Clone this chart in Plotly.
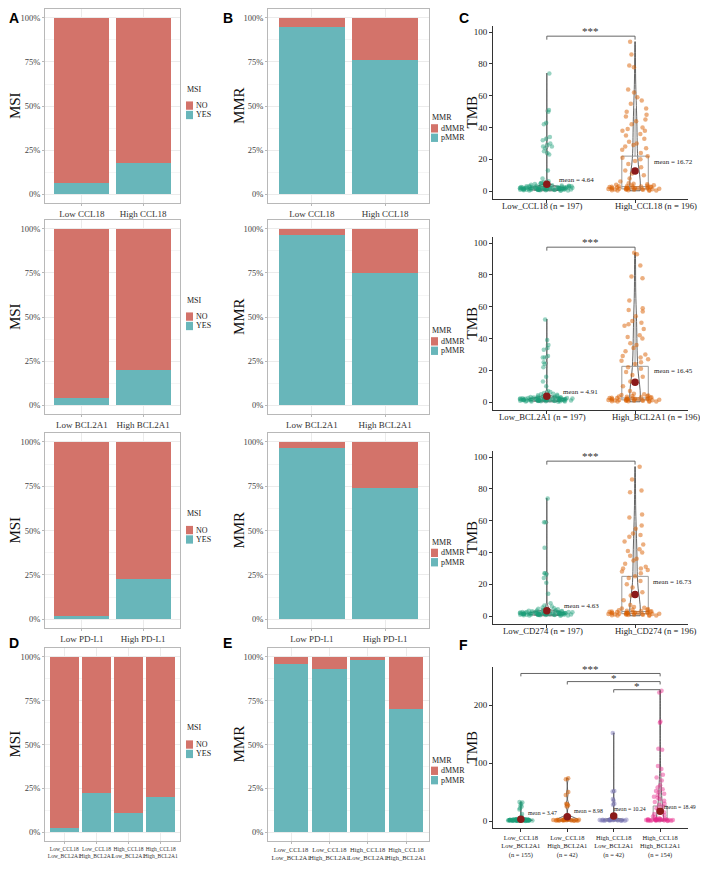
import plotly.graph_objects as go

# page is 708x869; the html body keeps an 8px margin, so the figure is 16px smaller
PW, PH, OFF = 708, 869, 8
W, H = PW - 2 * OFF, PH - 2 * OFF

# ---------------- data ----------------
CATS_CCL18 = ["Low CCL18", "High CCL18"]
CATS_BCL2A1 = ["Low BCL2A1", "High BCL2A1"]
CATS_PDL1 = ["Low PD-L1", "High PD-L1"]
CATS_COMBO = ["Low_CCL18<br>Low_BCL2A1", "Low_CCL18<br>High_BCL2A1",
              "High_CCL18<br>Low_BCL2A1", "High_CCL18<br>High_BCL2A1"]

MSI_YES_CCL18 = [0.065, 0.178]
MSI_YES_BCL2A1 = [0.041, 0.200]
MSI_YES_PDL1 = [0.017, 0.225]
MSI_YES_COMBO = [0.026, 0.222, 0.110, 0.199]

PMMR_CCL18 = [0.948, 0.759]
PMMR_BCL2A1 = [0.963, 0.748]
PMMR_PDL1 = [0.966, 0.739]
PMMR_COMBO = [0.957, 0.929, 0.983, 0.700]

TMB_CATS_CCL18 = ["Low_CCL18 (n = 197)", "High_CCL18 (n = 196)"]
TMB_CATS_BCL2A1 = ["Low_BCL2A1 (n = 197)", "High_BCL2A1 (n = 196)"]
TMB_CATS_CD274 = ["Low_CD274 (n = 197)", "High_CD274 (n = 196)"]
TMB_CATS_COMBO = ["Low_CCL18<br>Low_BCL2A1<br>(n = 155)", "Low_CCL18<br>High_BCL2A1<br>(n = 42)",
                  "High_CCL18<br>Low_BCL2A1<br>(n = 42)", "High_CCL18<br>High_BCL2A1<br>(n = 154)"]

TMB_LOW_CCL18 = [74, 51, 50, 43, 42, 34, 33, 32, 30, 29, 28, 28, 27, 25, 24, 23, 13, 8,
                 0.2, 0.3, 0.4, 0.5, 0.5, 0.6, 0.6, 0.7, 0.7, 0.8, 0.8, 0.8, 0.9, 0.9, 0.9, 1.0, 1.0, 1.0,
                 1.0, 1.1, 1.1, 1.1, 1.2, 1.2, 1.2, 1.2, 1.3, 1.3, 1.3, 1.4, 1.4, 1.4, 1.4, 1.5, 1.5, 1.5,
                 1.5, 1.6, 1.6, 1.6, 1.7, 1.7, 1.7, 1.8, 1.8, 1.8, 1.9, 1.9, 1.9, 2.0, 2.0, 2.0, 2.1, 2.1,
                 2.1, 2.2, 2.2, 2.3, 2.3, 2.3, 2.4, 2.4, 2.5, 2.5, 2.6, 2.6, 2.7, 2.7, 2.8, 2.9, 3.0, 3.0,
                 3.1, 3.2, 3.3, 3.4, 3.5, 3.6, 3.8, 4.0, 4.2, 4.4, 4.7, 5.0, 5.3, 5.7, 6.2]
TMB_HIGH_CCL18 = [94, 86, 79, 78, 64, 62, 59, 57, 55, 52, 50, 48, 47, 45, 44, 42, 40, 39, 38, 38, 36, 35,
                  33, 31, 30, 29, 28, 27, 26, 24, 22, 21, 20, 19, 17, 15, 13, 11, 10, 8, 6,
                  0.2, 0.3, 0.4, 0.5, 0.6, 0.7, 0.8, 0.9, 1.0, 1.0, 1.1, 1.2, 1.2, 1.3, 1.4, 1.4, 1.5, 1.5,
                  1.6, 1.7, 1.7, 1.8, 1.9, 2.0, 2.0, 2.1, 2.2, 2.3, 2.4, 2.5, 2.6, 2.7, 2.8, 2.9, 3.0,
                  3.1, 3.3, 3.5, 3.7, 4.0, 4.3, 4.6, 5.0]
TMB_LOW_BCL2A1 = [52, 39, 36, 34, 33, 29, 28, 28, 25, 24, 22, 16, 13, 10, 7,
                  0.2, 0.3, 0.4, 0.4, 0.5, 0.6, 0.6, 0.7, 0.7, 0.8, 0.8, 0.9, 0.9, 0.9, 1.0, 1.0, 1.0, 1.1,
                  1.1, 1.1, 1.2, 1.2, 1.2, 1.3, 1.3, 1.3, 1.3, 1.4, 1.4, 1.4, 1.5, 1.5, 1.5, 1.6, 1.6, 1.6,
                  1.7, 1.7, 1.7, 1.8, 1.8, 1.8, 1.9, 1.9, 2.0, 2.0, 2.0, 2.1, 2.1, 2.2, 2.2, 2.2, 2.3, 2.3,
                  2.4, 2.4, 2.5, 2.5, 2.6, 2.7, 2.7, 2.8, 2.9, 3.0, 3.1, 3.2, 3.3, 3.4, 3.6, 3.8, 4.0, 4.3,
                  4.6, 4.9, 5.3, 5.8, 6.3]
TMB_HIGH_BCL2A1 = [94, 93, 86, 79, 78, 64, 59, 58, 57, 54, 51, 50, 49, 48, 46, 42, 41, 40, 37, 36, 34, 32,
                   30, 29, 28, 27, 26, 25, 24, 22, 21, 19, 17, 16, 13, 10, 7,
                   0.2, 0.3, 0.4, 0.5, 0.6, 0.7, 0.8, 0.9, 0.9, 1.0, 1.1, 1.1, 1.2, 1.3, 1.3, 1.4, 1.5,
                   1.5, 1.6, 1.7, 1.8, 1.8, 1.9, 2.0, 2.1, 2.2, 2.3, 2.4, 2.5, 2.6, 2.7, 2.8, 3.0, 3.1,
                   3.3, 3.5, 3.7, 3.9, 4.2, 4.5, 4.9, 5.3]
TMB_LOW_CD274 = [74, 59, 59, 43, 27, 27, 26, 24, 21, 14, 8,
                 0.2, 0.3, 0.4, 0.5, 0.5, 0.6, 0.6, 0.7, 0.7, 0.8, 0.8, 0.8, 0.9, 0.9, 1.0, 1.0, 1.0, 1.1,
                 1.1, 1.1, 1.2, 1.2, 1.2, 1.3, 1.3, 1.3, 1.4, 1.4, 1.4, 1.5, 1.5, 1.5, 1.5, 1.6, 1.6, 1.6,
                 1.7, 1.7, 1.7, 1.8, 1.8, 1.8, 1.9, 1.9, 2.0, 2.0, 2.0, 2.1, 2.1, 2.2, 2.2, 2.3, 2.3, 2.4,
                 2.4, 2.5, 2.5, 2.6, 2.6, 2.7, 2.8, 2.9, 3.0, 3.1, 3.2, 3.3, 3.5, 3.6, 3.8, 4.0, 4.3, 4.6,
                 5.0, 5.4, 6.0, 6.6]
TMB_HIGH_CD274 = [94, 86, 79, 78, 64, 62, 57, 55, 52, 51, 50, 47, 45, 42, 41, 40, 38, 36, 35, 33, 31, 30,
                  30, 29, 28, 27, 25, 24, 22, 20, 18, 15, 13, 10, 7,
                  0.2, 0.3, 0.4, 0.5, 0.6, 0.7, 0.8, 0.9, 1.0, 1.0, 1.1, 1.2, 1.3, 1.3, 1.4, 1.5, 1.5,
                  1.6, 1.7, 1.8, 1.9, 1.9, 2.0, 2.1, 2.2, 2.3, 2.4, 2.5, 2.6, 2.7, 2.8, 2.9, 3.0, 3.2,
                  3.4, 3.6, 3.8, 4.1, 4.4, 4.8, 5.2, 5.7]
TMB_COMBO_1 = [33, 32, 30, 27, 25, 22, 20, 12, 8,
               0.2, 0.3, 0.4, 0.5, 0.5, 0.6, 0.6, 0.7, 0.7, 0.8, 0.8, 0.9, 0.9, 0.9, 1.0, 1.0, 1.0, 1.1,
               1.1, 1.2, 1.2, 1.2, 1.3, 1.3, 1.3, 1.4, 1.4, 1.4, 1.5, 1.5, 1.5, 1.6, 1.6, 1.6, 1.7, 1.7,
               1.8, 1.8, 1.8, 1.9, 1.9, 2.0, 2.0, 2.1, 2.1, 2.2, 2.2, 2.3, 2.4, 2.4, 2.5, 2.6, 2.7, 2.8,
               2.9, 3.0, 3.2, 3.4, 3.6, 3.9, 4.2, 4.6, 5.1]
TMB_COMBO_2 = [74, 72, 50, 45, 30, 29, 27, 25, 8,
               0.3, 0.5, 0.6, 0.8, 0.9, 1.0, 1.1, 1.2, 1.3, 1.4, 1.5, 1.6, 1.7, 1.8, 1.9, 2.0, 2.1, 2.2,
               2.4, 2.6, 2.8, 3.1, 3.5, 4.0]
TMB_COMBO_3 = [152, 52, 51, 38, 35, 30, 28, 8,
               0.3, 0.5, 0.6, 0.8, 0.9, 1.0, 1.1, 1.2, 1.3, 1.4, 1.5, 1.6, 1.7, 1.8, 1.9, 2.0, 2.1, 2.3,
               2.5, 2.7, 2.9, 3.2, 3.6, 4.1]
TMB_COMBO_4 = [225, 222, 172, 170, 125, 123, 95, 90, 80, 75, 70, 62, 58, 55, 52, 50, 47, 45, 42, 40, 38,
               35, 33, 30, 28, 25, 22, 20, 18, 15, 12, 10, 8, 6,
               0.2, 0.4, 0.5, 0.6, 0.8, 0.9, 1.0, 1.1, 1.2, 1.3, 1.4, 1.5, 1.6, 1.7, 1.8, 1.9, 2.0, 2.1,
               2.2, 2.4, 2.5, 2.7, 2.9, 3.1, 3.4, 3.7, 4.1, 4.6]

# box statistics: q1, median, q3, lower fence, upper fence
BOX_CCL18 = [[1.0, 1.9, 2.9, 0.2, 5.5], [1.4, 2.8, 22.0, 0.2, 52]]
BOX_BCL2A1 = [[1.0, 2.0, 3.0, 0.2, 6.0], [1.4, 2.6, 22.5, 0.2, 53]]
BOX_CD274 = [[1.0, 2.0, 3.2, 0.2, 6.5], [1.5, 2.9, 25.0, 0.2, 59]]
BOX_COMBO = [[0.9, 1.7, 2.6, 0.2, 5], [1.0, 2.0, 3.2, 0.3, 6], [1.0, 2.0, 3.2, 0.3, 6], [1.5, 3.0, 26, 0.2, 62]]

MEAN_POS_CCL18 = [4.3, 12.6]
MEAN_POS_BCL2A1 = [3.6, 12.5]
MEAN_POS_CD274 = [3.3, 13.5]
MEAN_POS_COMBO = [3.0, 7.5, 8.6, 17.0]
MEAN_TXT_CCL18 = ["4.64", "16.72"]
MEAN_TXT_BCL2A1 = ["4.91", "16.45"]
MEAN_TXT_CD274 = ["4.63", "16.73"]
MEAN_TXT_COMBO = ["3.47", "8.98", "10.24", "18.49"]

# significance brackets: (from, to, height, label)
SIG_TWO = [(0, 1, 97.5, "***")]
SIG_COMBO = [(0, 3, 255, "***"), (1, 3, 241, "*"), (2, 3, 227, "*")]

# ---------------- style ----------------
RED = "#D3736A"
TEAL = "#68B6BA"
PT_COLORS = ["rgba(27,158,119,0.45)", "rgba(217,95,2,0.5)", "rgba(117,112,179,0.45)", "rgba(231,41,138,0.45)"]
SERIF = "Liberation Serif"
SANS = "Liberation Sans"

fig = go.Figure()
annotations = []
shapes = []


def sfx(i):
    return "" if i == 1 else str(i)


def clamp(v):
    return min(1.0, max(0.0, v))


def px_x(px):
    return (px - OFF) / W


def px_y(px):
    return 1 - (px - OFF) / H


def dom_x(l, r):
    return [clamp(px_x(l)), clamp(px_x(r))]


def dom_y(t, b):
    return [clamp(px_y(b)), clamp(px_y(t))]


def ytitle_ann(text, xc, yc):
    annotations.append(dict(text=text, x=px_x(xc), y=px_y(yc), xref="paper", yref="paper", textangle=-90,
                            xanchor="center", yanchor="middle", showarrow=False,
                            font=dict(size=15, family=SERIF, color="#111111")))


def legend(lx, ytitle, items, title):
    annotations.append(dict(text=title, x=px_x(lx), y=px_y(ytitle), xref="paper", yref="paper",
                            xanchor="left", yanchor="middle", showarrow=False, borderpad=0,
                            font=dict(size=8, family=SERIF, color="#222222")))
    for (lab, col, yy) in items:
        shapes.append(dict(type="rect", xref="paper", yref="paper", x0=px_x(lx), x1=px_x(lx + 7),
                           y0=px_y(yy + 4.2), y1=px_y(yy - 4.2), fillcolor=col, line=dict(width=0)))
        annotations.append(dict(text=lab, x=px_x(lx + 9), y=px_y(yy), xref="paper", yref="paper",
                                xanchor="left", yanchor="middle", showarrow=False, borderpad=0,
                                font=dict(size=8, family=SERIF, color="#222222")))


def bar_panel(i, cats, bottom, names, ytitle, xdom, ydom, tickfs, title_x, leg):
    s = sfx(i)
    top = [1 - v for v in bottom]
    fig.add_trace(go.Bar(x=cats, y=bottom, name=names[0], marker=dict(color=TEAL, line=dict(width=0)),
                         xaxis="x" + s, yaxis="y" + s))
    fig.add_trace(go.Bar(x=cats, y=top, name=names[1], marker=dict(color=RED, line=dict(width=0)),
                         xaxis="x" + s, yaxis="y" + s))
    n = len(cats)
    fig.layout["xaxis" + s] = dict(
        domain=dom_x(*xdom), anchor="y" + s, type="category", categoryorder="array", categoryarray=cats,
        range=[-0.6, n - 1 + 0.6], showline=True, mirror=True, linecolor="#B8B8B8", linewidth=1,
        showgrid=True, gridcolor="#EBEBEB", gridwidth=1, ticks="outside", ticklen=2, tickcolor="#B8B8B8",
        tickangle=0, tickfont=dict(size=tickfs, color="#333333", family=SERIF), zeroline=False,
        fixedrange=True)
    fig.layout["yaxis" + s] = dict(
        domain=dom_y(*ydom), anchor="x" + s, range=[-0.05, 1.05], tickvals=[0, 0.25, 0.5, 0.75, 1],
        tickformat=".0%", showline=True, mirror=True, linecolor="#B8B8B8", linewidth=1,
        showgrid=True, gridcolor="#EBEBEB", gridwidth=1, ticks="outside", ticklen=2, tickcolor="#B8B8B8",
        tickfont=dict(size=8.5, color="#444444", family=SERIF), zeroline=False, fixedrange=True,
        minor=dict(tickvals=[0.125, 0.375, 0.625, 0.875], showgrid=True, gridcolor="#F5F5F5", gridwidth=0.6))
    mid = (ydom[0] + ydom[1]) / 2
    ytitle_ann(ytitle, title_x, mid)
    lx, offs, labels = leg
    legend(lx, mid + offs[0], [(labels[k][0], labels[k][1], mid + offs[k + 1]) for k in range(2)], ytitle)


def tmb_panel(i, cats, groups, boxes, mean_pos, mean_txt, sigs, vwidths, label_off, xdom, ydom,
              yrange, ytick, tickfs, bracket_tick, star_shift, xr, mean_fs, label_shift=None):
    s = sfx(i)
    xa, ya = "x" + s, "y" + s
    n = len(cats)
    for g in range(n):
        q1, med, q3, lf, uf = boxes[g]
        fig.add_trace(go.Box(x=[cats[g]], q1=[q1], median=[med], q3=[q3], lowerfence=[lf], upperfence=[uf],
                             width=0.3, boxpoints=False, line=dict(color="#9A9A9A", width=1),
                             fillcolor="rgba(255,255,255,0)", xaxis=xa, yaxis=ya, whiskerwidth=0))
        fig.add_trace(go.Violin(x=[cats[g]] * len(groups[g]), y=groups[g], width=vwidths[g], points=False,
                                spanmode="hard", line=dict(color="#3C3C3C", width=0.8),
                                fillcolor="rgba(255,255,255,0.15)", xaxis=xa, yaxis=ya, scalemode="width"))
        fig.add_trace(go.Box(x=[cats[g]] * len(groups[g]), y=groups[g], width=0.62, boxpoints="all", jitter=1,
                             pointpos=0, marker=dict(color=PT_COLORS[g], size=4.5, line=dict(width=0)),
                             line=dict(color="rgba(0,0,0,0)", width=0), fillcolor="rgba(0,0,0,0)",
                             xaxis=xa, yaxis=ya))
    fig.add_trace(go.Scatter(x=cats, y=mean_pos, mode="markers",
                             marker=dict(color="#8B1A1A", size=7.5, line=dict(width=0)), xaxis=xa, yaxis=ya))
    for g in range(n):
        dx, dy = label_off[g]
        annotations.append(dict(text="mean = " + mean_txt[g], x=g + dx, y=mean_pos[g] + dy, xref=xa, yref=ya,
                                xanchor="left", yanchor="middle", showarrow=False, borderpad=0,
                                font=dict(size=mean_fs, family=SERIF, color="#222222")))
    for (a, b, hgt, lab) in sigs:
        fig.add_trace(go.Scatter(x=[cats[a], cats[a], cats[b], cats[b]],
                                 y=[hgt - bracket_tick, hgt, hgt, hgt - bracket_tick], mode="lines",
                                 line=dict(color="#555555", width=0.9), xaxis=xa, yaxis=ya))
        annotations.append(dict(text=lab, x=(a + b) / 2, y=hgt, xref=xa, yref=ya, xanchor="center",
                                yanchor="bottom", yshift=star_shift, showarrow=False, borderpad=0,
                                font=dict(size=11, family=SERIF, color="#333333")))
    fig.layout["xaxis" + s] = dict(
        domain=dom_x(*xdom), anchor=ya, type="category", categoryorder="array", categoryarray=cats,
        range=xr, showline=True, linecolor="#333333", tickangle=0,
        linewidth=0.9, showgrid=False, ticks="outside", ticklen=3, tickcolor="#333333",
        showticklabels=label_shift is None,
        tickfont=dict(size=tickfs, color="#222222", family=SERIF), zeroline=False, fixedrange=True)
    if label_shift is not None:
        # category labels drawn at the category positions, shifted as in the reference
        for g in range(n):
            annotations.append(dict(text=cats[g], x=g + label_shift[g], y=dom_y(*ydom)[0], xref=xa,
                                    yref="paper", xanchor="center", yanchor="top", yshift=-1,
                                    showarrow=False, borderpad=0,
                                    font=dict(size=tickfs, family=SERIF, color="#222222")))
    fig.layout["yaxis" + s] = dict(
        domain=dom_y(*ydom), anchor=xa, range=yrange, tickvals=ytick, showline=True, linecolor="#333333",
        linewidth=0.9, showgrid=False, ticks="outside", ticklen=3, tickcolor="#333333",
        tickfont=dict(size=9, color="#222222", family=SERIF), zeroline=False, fixedrange=True)
    ytitle_ann("TMB", 472, (ydom[0] + ydom[1]) / 2)


MSI_LEG = [("NO", RED), ("YES", TEAL)]
MMR_LEG = [("dMMR", RED), ("pMMR", TEAL)]
COL_A = (45, 180)
COL_B = (268, 429)
COL_C = (493, 688)
ROWS = [(8, 204), (221, 417), (436, 633), (653, 848)]
C_XR = [-0.61, 1.6]
C_LABEL_SHIFT = [-0.045, 0.235]
C_LAB_FS = 8.7

bar_panel(1, CATS_CCL18, MSI_YES_CCL18, ["YES", "NO"], "MSI", COL_A, ROWS[0], 9, 15,
          (186, [-17, -0.5, 9], MSI_LEG))
bar_panel(2, CATS_CCL18, PMMR_CCL18, ["pMMR", "dMMR"], "MMR", COL_B, ROWS[0], 9, 239,
          (431, [12, 22.5, 32], MMR_LEG))
tmb_panel(3, TMB_CATS_CCL18, [TMB_LOW_CCL18, TMB_HIGH_CCL18], BOX_CCL18, MEAN_POS_CCL18, MEAN_TXT_CCL18,
          SIG_TWO, [0.42, 0.12], [(0.125, 2.6), (0.2, 6.0)], COL_C, (25, 200), [-5.1, 104],
          [0, 20, 40, 60, 80, 100], C_LAB_FS, 2.2, -2, C_XR, 7, C_LABEL_SHIFT)
bar_panel(4, CATS_BCL2A1, MSI_YES_BCL2A1, ["YES", "NO"], "MSI", COL_A, ROWS[1], 9, 15,
          (186, [-17, -0.5, 9], MSI_LEG))
bar_panel(5, CATS_BCL2A1, PMMR_BCL2A1, ["pMMR", "dMMR"], "MMR", COL_B, ROWS[1], 9, 239,
          (431, [14, 24.5, 34], MMR_LEG))
tmb_panel(6, TMB_CATS_BCL2A1, [TMB_LOW_BCL2A1, TMB_HIGH_BCL2A1], BOX_BCL2A1, MEAN_POS_BCL2A1, MEAN_TXT_BCL2A1,
          SIG_TWO, [0.42, 0.12], [(0.17, 2.6), (0.2, 7.1)], COL_C, (238, 413), [-5.1, 104],
          [0, 20, 40, 60, 80, 100], C_LAB_FS, 2.2, -2, C_XR, 7, C_LABEL_SHIFT)
bar_panel(7, CATS_PDL1, MSI_YES_PDL1, ["YES", "NO"], "MSI", COL_A, ROWS[2], 9, 15,
          (186, [-17, -0.5, 9], MSI_LEG))
bar_panel(8, CATS_PDL1, PMMR_PDL1, ["pMMR", "dMMR"], "MMR", COL_B, ROWS[2], 9, 239,
          (431, [12, 22.5, 32], MMR_LEG))
tmb_panel(9, TMB_CATS_CD274, [TMB_LOW_CD274, TMB_HIGH_CD274], BOX_CD274, MEAN_POS_CD274, MEAN_TXT_CD274,
          SIG_TWO, [0.42, 0.12], [(0.18, 3.1), (0.19, 7.9)], COL_C, (454, 629), [-5.1, 104],
          [0, 20, 40, 60, 80, 100], C_LAB_FS, 2.2, -2, C_XR, 7, C_LABEL_SHIFT)
bar_panel(10, CATS_COMBO, MSI_YES_COMBO, ["YES", "NO"], "MSI", COL_A, ROWS[3], 5.5, 15,
          (186, [-17, 0, 9.5], MSI_LEG))
bar_panel(11, CATS_COMBO, PMMR_COMBO, ["pMMR", "dMMR"], "MMR", COL_B, ROWS[3], 6.5, 239,
          (431, [16, 26.5, 36], MMR_LEG))
tmb_panel(12, TMB_CATS_COMBO, [TMB_COMBO_1, TMB_COMBO_2, TMB_COMBO_3, TMB_COMBO_4], BOX_COMBO, MEAN_POS_COMBO,
          MEAN_TXT_COMBO, SIG_COMBO, [0.5, 0.45, 0.45, 0.15], [(0.13, 10), (0.13, 9.5), (-0.02, 12.4), (0.06, 8)],
          (493, 688), (672, 835), [-12.5, 266.6], [0, 100, 200], 6.5, 5, -3, [-0.6, 3.6], 5.8)

# panel letters
for lab, x, y, anc in [("A", 8, OFF, "top"), ("B", 222, OFF, "top"), ("C", 458, OFF, "top"),
                       ("D", 8, 648, "middle"), ("E", 222, 648, "middle"), ("F", 458, 650, "middle")]:
    annotations.append(dict(text="<b>" + lab + "</b>", x=px_x(x), y=px_y(y), xref="paper", yref="paper",
                            xanchor="left", yanchor=anc, showarrow=False, borderpad=0,
                            font=dict(size=14, family=SANS, color="#000000")))

fig.update_layout(width=W, height=H, margin=dict(l=0, r=0, t=0, b=0), plot_bgcolor="white",
                  paper_bgcolor="white", showlegend=False, barmode="stack", bargap=0.1,
                  boxmode="overlay", violinmode="overlay",
                  font=dict(family=SERIF, color="#333333"), annotations=annotations, shapes=shapes)

fig.write_html("out.html")
